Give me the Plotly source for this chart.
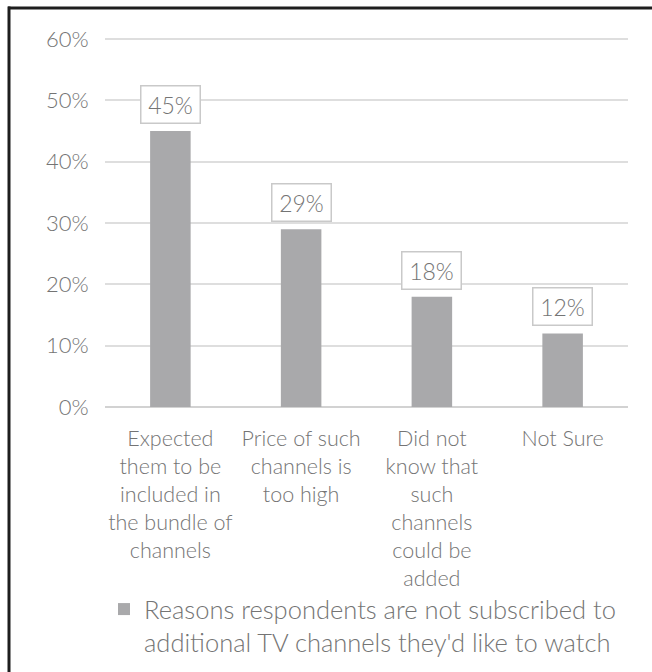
import plotly.graph_objects as go

categories = [
    "Expected<br>them to be<br>included in<br>the bundle of<br>channels",
    "Price of such<br>channels is<br>too high",
    "Did not<br>know that<br>such<br>channels<br>could be<br>added",
    "Not Sure",
]
values = [45, 29, 18, 12]
value_labels = ["45%", "29%", "18%", "12%"]
tick_vals = [0, 10, 20, 30, 40, 50, 60]
tick_text = ["0%", "10%", "20%", "30%", "40%", "50%", "60%"]
series_name = "Reasons respondents are not subscribed to<br>additional TV channels they'd like to watch"

FONT = "Lato"
TXT = "#747474"
BAR = "#a9a9ab"
GRID = "#dedede"

fig = go.Figure()
fig.add_trace(go.Bar(
    x=categories, y=values, name=series_name,
    marker=dict(color=BAR, line=dict(width=0)),
    width=0.31, showlegend=True,
))

for c, v, t in zip(categories, values, value_labels):
    fig.add_annotation(
        x=c, y=v, text=t, showarrow=False, yanchor="bottom", yshift=7,
        font=dict(family=FONT, size=23, color=TXT, weight=300),
        bgcolor="white", bordercolor="#c9c9c9", borderwidth=1.5, borderpad=3,
        width=52, height=30,
    )

W, H = 652, 672
YMAX = 61
L, R, B = 105, 24, 265
T = round(H - B - 368 * YMAX / 60)
pw = W - L - R
ph = H - T - B

def px_x(p):
    return (p - L) / pw

def px_y(p):
    return (H - B - p) / ph

# frame lines (top and left only)
fig.add_shape(type="line", xref="paper", yref="paper",
              x0=px_x(8), x1=px_x(W + 2), y0=px_y(8), y1=px_y(8),
              line=dict(color="#1e1e1e", width=3))
fig.add_shape(type="line", xref="paper", yref="paper",
              x0=px_x(9), x1=px_x(9), y0=px_y(6.5), y1=px_y(H + 2),
              line=dict(color="#1e1e1e", width=3))

fig.update_layout(
    width=W, height=H,
    margin=dict(l=L, r=R, t=T, b=B, autoexpand=False),
    paper_bgcolor="white", plot_bgcolor="white",
    font=dict(family=FONT, color=TXT),
    legend=dict(
        x=px_x(104), y=px_y(586), xanchor="left", yanchor="top",
        font=dict(family=FONT, size=25.5, color=TXT, weight=300),
        valign="top", bgcolor="rgba(0,0,0,0)",
        itemclick=False,
    ),
    xaxis=dict(
        tickfont=dict(family=FONT, size=21.5, color=TXT, weight=300),
        showgrid=False, showline=False, zeroline=False,
        ticks="outside", ticklen=12, tickcolor="rgba(0,0,0,0)",
        tickangle=0,
    ),
    yaxis=dict(
        range=[0, YMAX], tickvals=tick_vals, ticktext=tick_text,
        tickfont=dict(family=FONT, size=22, color=TXT, weight=300),
        showgrid=True, gridcolor=GRID, gridwidth=1.5,
        zeroline=True, zerolinecolor="#d2d2d2", zerolinewidth=1.5,
        showline=False,
        ticks="outside", ticklen=11, tickcolor="rgba(0,0,0,0)",
    ),
)

fig.write_html("out.html")
